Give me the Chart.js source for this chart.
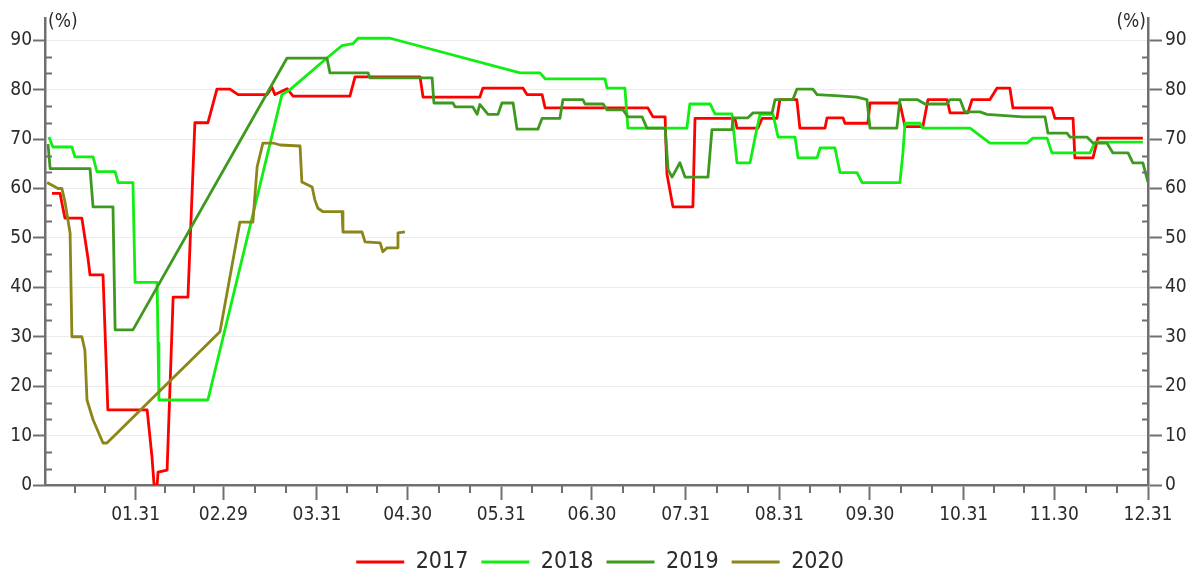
<!DOCTYPE html>
<html>
<head>
<meta charset="utf-8">
<script src="https://cdn.jsdelivr.net/npm/chart.js@4.4.1/dist/chart.umd.min.js"></script>
<style>
  body { margin: 0; background: #fff; }
  canvas { display: block; }
</style>
</head>
<body>
<canvas id="myChart" width="1200" height="576"></canvas>
<script>
// day of year (01.01 = 1) and value in %
const days2017 = [3.3, 6.0, 6.6, 7.6, 13.2, 15.2, 15.9, 20.2, 21.8, 34.8, 36.4, 37.1, 38.1, 38.4, 41.4, 43.4, 48.3, 50.6, 54.9, 57.9, 62.2, 64.9, 74.5, 76.1, 77.1, 81.1, 83.1, 101.9, 103.6, 125.1, 126.1, 144.9, 145.9, 159.2, 160.5, 165.5, 166.5, 200.5, 202.2, 206.2, 206.8, 208.8, 215.4, 216.1, 229.3, 230.0, 236.9, 238.3, 243.2, 244.2, 249.8, 250.8, 259.1, 259.8, 265.1, 265.7, 273.3, 274.0, 283.9, 285.6, 291.5, 293.2, 299.5, 300.5, 306.4, 307.8, 313.7, 316.0, 320.3, 321.3, 334.2, 335.2, 341.2, 341.8, 347.8, 349.4, 364.3];
const rate2017 = [59, 59, 57, 54, 54, 46, 42.5, 42.5, 15.2, 15.2, 5.7, 0, 0, 2.6, 3, 38, 38, 73.3, 73.3, 80.1, 80.1, 79, 79, 80.5, 79, 80.2, 78.7, 78.7, 82.6, 82.6, 78.5, 78.5, 80.3, 80.3, 79, 79, 76.3, 76.3, 74.5, 74.5, 63, 56.3, 56.3, 74.2, 74.2, 72.2, 72.2, 74.2, 74.2, 78, 78, 72.2, 72.2, 74.3, 74.3, 73.2, 73.2, 77.3, 77.3, 72.5, 72.5, 78, 78, 75.3, 75.3, 78, 78, 80.3, 80.3, 76.3, 76.3, 74.2, 74.2, 66.2, 66.2, 70.2, 70.2];

const days2018 = [2.3, 3.6, 9.9, 10.9, 16.9, 18.2, 24.2, 25.2, 30.1, 30.8, 38.1, 38.4, 38.7, 54.9, 79.4, 82.1, 94.3, 99.3, 102.9, 104.6, 115.2, 158.2, 164.8, 166.5, 186.3, 187.0, 192.9, 193.9, 213.4, 214.4, 221.1, 222.7, 228.3, 230.0, 234.3, 236.6, 237.6, 241.9, 243.6, 249.2, 250.2, 256.5, 257.5, 262.4, 264.1, 269.7, 271.4, 283.9, 284.9, 285.6, 290.5, 291.5, 307.1, 313.7, 326.0, 327.9, 332.6, 334.2, 346.8, 348.5, 364.3];
const rate2018 = [70.4, 68.4, 68.4, 66.4, 66.4, 63.4, 63.4, 61.2, 61.2, 41, 41, 28.7, 17.2, 17.2, 79, 80, 86.4, 88.9, 89.3, 90.4, 90.4, 83.4, 83.4, 82.2, 82.2, 80.3, 80.3, 72.2, 72.2, 77.1, 77.1, 75.1, 75.1, 65.2, 65.2, 72.2, 75, 75, 70.4, 70.4, 66.2, 66.2, 68.2, 68.2, 63.2, 63.2, 61.2, 61.2, 67.2, 73.2, 73.2, 72.2, 72.2, 69.2, 69.2, 70.2, 70.2, 67.2, 67.2, 69.4, 69.4];

const days2019 = [2.0, 2.7, 15.9, 16.9, 23.5, 24.2, 30.1, 81.1, 94.3, 95.3, 107.9, 108.5, 129.1, 129.7, 136.0, 136.7, 142.6, 144.0, 144.9, 147.6, 150.9, 152.2, 155.9, 157.2, 164.1, 165.5, 171.4, 172.4, 179.0, 179.7, 185.7, 187.0, 192.3, 193.9, 198.6, 200.2, 206.2, 207.2, 208.5, 211.1, 212.8, 220.4, 221.7, 228.3, 228.7, 233.6, 235.3, 241.6, 242.6, 248.5, 249.8, 255.1, 256.5, 262.4, 269.7, 273.0, 274.0, 282.9, 283.9, 289.6, 292.2, 299.5, 300.5, 303.8, 305.4, 310.4, 312.7, 324.6, 331.9, 332.9, 339.2, 340.2, 345.8, 347.8, 352.4, 354.4, 359.4, 361.0, 364.3, 366];
const rate2019 = [69, 64, 64, 56.3, 56.3, 31.4, 31.4, 86.4, 86.4, 83.4, 83.4, 82.4, 82.4, 77.3, 77.3, 76.5, 76.5, 75, 77, 75, 75, 77.3, 77.3, 72, 72, 74.2, 74.2, 78, 78, 77.1, 77.1, 75.9, 75.9, 74.5, 74.5, 72.2, 72.2, 63.8, 62.3, 65.2, 62.3, 62.3, 71.9, 71.9, 74.3, 74.3, 75.3, 75.3, 78, 78, 80.1, 80.1, 79, 78.8, 78.5, 78, 72.2, 72.2, 78, 78, 77.1, 77.1, 78, 78, 75.5, 75.5, 75, 74.5, 74.5, 71.2, 71.2, 70.4, 70.4, 69.2, 69.2, 67.2, 67.2, 65.2, 65.2, 61.3];

const days2020 = [1.7, 5.3, 6.6, 7.6, 9.3, 9.9, 13.2, 14.2, 14.9, 16.9, 20.2, 21.5, 58.9, 63.2, 65.5, 69.8, 71.2, 72.8, 73.1, 76.5, 78.8, 85.4, 86.0, 89.4, 90.3, 91.3, 93.0, 99.3, 99.6, 105.9, 106.9, 111.9, 112.8, 114.2, 117.5, 117.8, 120.1];
const rate2020 = [61.2, 60, 60, 57.3, 51, 30, 30, 27.3, 17.2, 13.2, 8.5, 8.5, 31, 45.5, 53.2, 53.2, 64.4, 68.4, 69.2, 69.2, 68.8, 68.6, 61.3, 60.3, 57.7, 56, 55.3, 55.3, 51.2, 51.2, 49.2, 49, 47.2, 48, 48, 51, 51.2];

const xTickDays = [31, 60, 91, 121, 152, 182, 213, 244, 274, 305, 335, 366];
const xTickLabels = ["01.31", "02.29", "03.31", "04.30", "05.31", "06.30", "07.31", "08.31", "09.30", "10.31", "11.30", "12.31"];
const yTicks = [0, 10, 20, 30, 40, 50, 60, 70, 80, 90];

const axisColor = "#707070";
const textColor = "#2b2b2b";
const fontFamily = '"DejaVu Sans Condensed", "DejaVu Sans", sans-serif';

const ctx = document.getElementById("myChart");

function points(days, values) {
  const out = [];
  for (let i = 0; i < days.length; i++) {
    out.push({ x: days[i], y: values[i] });
  }
  return out;
}

function lineSet(label, days, values, color, order) {
  return {
    label: label,
    data: points(days, values),
    borderColor: color,
    backgroundColor: color,
    borderWidth: 2.8,
    pointRadius: 0,
    tension: 0,
    borderJoinStyle: "round",
    order: order,
  };
}

// minor ticks between the labelled ones
function minorXTicks() {
  const edges = [1, ...xTickDays];
  const out = [];
  for (let i = 0; i < edges.length - 1; i++) {
    const step = (edges[i + 1] - edges[i]) / 3;
    out.push(edges[i] + step, edges[i] + 2 * step);
  }
  return out;
}

function minorYTicks() {
  const out = [];
  for (let i = 0; i < yTicks.length - 1; i++) {
    out.push(yTicks[i] + 10 / 3, yTicks[i] + 20 / 3);
  }
  return out;
}

const axisExtras = {
  id: "axisExtras",
  afterDraw(chart) {
    const { ctx, chartArea: a, scales } = chart;
    ctx.save();
    ctx.strokeStyle = axisColor;
    ctx.lineWidth = 2;
    ctx.beginPath();
    minorYTicks().forEach((v) => {
      const py = Math.round(scales.y.getPixelForValue(v)) + 0.5;
      ctx.moveTo(a.left, py);
      ctx.lineTo(a.left + 7, py);
      ctx.moveTo(a.right - 6, py);
      ctx.lineTo(a.right, py);
    });
    minorXTicks().forEach((d) => {
      const px = Math.round(scales.x.getPixelForValue(d));
      ctx.moveTo(px, a.bottom);
      ctx.lineTo(px, a.bottom + 8);
    });
    ctx.stroke();
    ctx.fillStyle = textColor;
    ctx.font = "19px " + fontFamily;
    ctx.textBaseline = "middle";
    ctx.textAlign = "left";
    ctx.fillText("(%)", a.left + 3, 22);
    ctx.textAlign = "right";
    ctx.fillText("(%)", a.right - 2, 22);
    ctx.restore();
  },
};

function createChart() {
  new Chart(ctx, {
    type: "line",
    data: {
      datasets: [
        lineSet("2017", days2017, rate2017, "#ff0000", 4),
        lineSet("2018", days2018, rate2018, "#11ee11", 3),
        lineSet("2019", days2019, rate2019, "#3d9a1f", 2),
        lineSet("2020", days2020, rate2020, "#8a861a", 1),
      ],
    },
    options: {
      responsive: false,
      animation: false,
      layout: {
        padding: { top: 18, bottom: -7.5, left: 0, right: 0 },
      },
      plugins: {
        tooltip: { enabled: false },
        legend: {
          position: "bottom",
          labels: {
            boxWidth: 48,
            boxHeight: 3,
            padding: 13,
            color: textColor,
            font: { family: fontFamily, size: 23 },
            generateLabels: (chart) =>
              chart.data.datasets.map((ds, i) => ({
                text: ds.label,
                fillStyle: ds.borderColor,
                strokeStyle: ds.borderColor,
                lineWidth: 0,
                fontColor: textColor,
                hidden: false,
                datasetIndex: i,
              })),
          },
        },
      },
      scales: {
        x: {
          type: "linear",
          min: 1,
          max: 366,
          afterBuildTicks: (scale) => {
            scale.ticks = xTickDays.map((d) => ({ value: d }));
          },
          afterFit: (scale) => {
            scale.height = 52.5;
          },
          grid: {
            drawOnChartArea: false,
            tickColor: axisColor,
            tickLength: 15,
            tickWidth: 2,
          },
          border: { color: axisColor, width: 2.5 },
          ticks: {
            autoSkip: false,
            maxRotation: 0,
            padding: 4,
            color: textColor,
            font: { family: fontFamily, size: 19 },
            callback: (value, index) => xTickLabels[index],
          },
        },
        y: {
          position: "left",
          min: 0,
          max: 94.5,
          afterBuildTicks: (scale) => {
            scale.ticks = yTicks.map((v) => ({ value: v }));
          },
          afterFit: (scale) => {
            scale.width = 45;
          },
          grid: {
            color: "#ececec",
            lineWidth: 1,
            tickColor: axisColor,
            tickLength: 12,
            tickWidth: 2,
          },
          border: { color: axisColor, width: 2.5 },
          ticks: {
            padding: 1,
            color: textColor,
            font: { family: fontFamily, size: 19 },
          },
        },
        y2: {
          position: "right",
          min: 0,
          max: 94.5,
          afterBuildTicks: (scale) => {
            scale.ticks = yTicks.map((v) => ({ value: v }));
          },
          afterFit: (scale) => {
            scale.width = 52;
          },
          grid: {
            drawOnChartArea: false,
            tickColor: axisColor,
            tickLength: 14,
            tickWidth: 2,
          },
          border: { color: axisColor, width: 2.5 },
          ticks: {
            padding: 3,
            color: textColor,
            font: { family: fontFamily, size: 19 },
          },
        },
      },
    },
    plugins: [axisExtras],
  });
}

createChart();
</script>
</body>
</html>
